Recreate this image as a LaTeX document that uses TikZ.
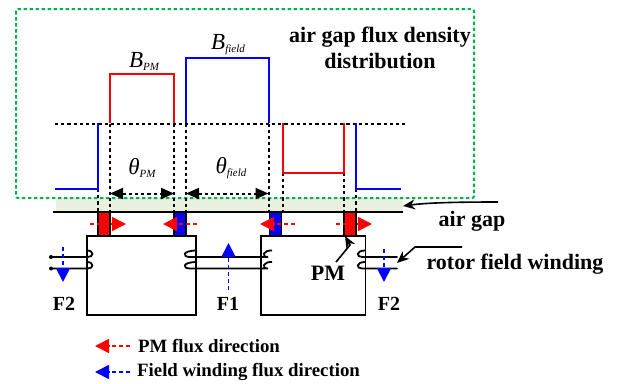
\documentclass[tikz,border=0pt]{standalone}
\usepackage{fontspec}
\setmainfont{Liberation Serif}
\usetikzlibrary{arrows.meta, positioning}
\definecolor{gapgreen}{HTML}{E9F0DF}
\definecolor{boxgreen}{HTML}{00B050}

\begin{document}
\begin{tikzpicture}[
  x=1pt, y=-1pt,
  label/.style={inner sep=0pt, align=center, font=\fontsize{22}{26}\selectfont\bfseries},
  flabel/.style={inner sep=0pt, font=\fontsize{20}{22}\selectfont\bfseries},
  legendtext/.style={inner sep=0pt, anchor=west, font=\fontsize{18.8}{20}\selectfont\bfseries},
  symbol/.style={inner sep=0pt, font=\fontsize{23}{24}\selectfont\itshape},
  wave/.style={draw, line width=2pt},
  guide/.style={draw, line width=2pt, dash pattern=on 3.2pt off 3pt},
  magnet/.style={rectangle, draw, line width=1.8pt, minimum width=12pt, minimum height=23pt, inner sep=0pt},
  rotor/.style={rectangle, draw, line width=1.8pt, minimum height=79.5pt, inner sep=0pt},
  span/.style={guide, {Triangle[length=13pt,width=11pt]}-{Triangle[length=13pt,width=11pt]}},
  flux/.style={line width=1.8pt, dash pattern=on 4pt off 3pt, -{Triangle[length=14pt,width=14pt]}},
  pointer/.style={draw, line width=1.6pt, -{Stealth[length=12pt,width=10pt]}},
  coil/.style={draw, line width=1.8pt},
]
  \useasboundingbox (0,0) rectangle (618,383);

  % air gap band and frame
  \fill[gapgreen] (56,198) rectangle (403,212);
  \draw[boxgreen, line width=2pt, dash pattern=on 3.5pt off 2.5pt, rounded corners=2pt] (16,9) rectangle (474,198);

  % reference level and guides
  \draw[guide] (55,123.5) -- (405,123.5);
  \foreach \xpos/\ytop in {98/189, 110/123.5, 174/123.5, 186/123.5, 268.5/123.5, 283/172.5, 344/172.5, 356/189}
    \draw[guide] (\xpos,\ytop) -- (\xpos,212);

  % flux density waveform
  \draw[wave, blue] (55,189) -- (98,189) -- (98,123);
  \draw[wave, red] (110,123) -- (110,74) -- (174,74) -- (174,123);
  \draw[wave, blue] (186,123) -- (186,58) -- (268.5,58) -- (268.5,123);
  \draw[wave, red] (283,123) -- (283,172.5) -- (344,172.5) -- (344,123);
  \draw[wave, blue] (356,123) -- (356,189) -- (401,189);

  \node[symbol] (bpm) at (144,61) {B\raisebox{-3pt}{\fontsize{11}{12}\selectfont PM}};
  \node[symbol] (bfield) at (228,45) {B\raisebox{-3pt}{\fontsize{11}{12}\selectfont field}};
  \node[symbol] (thetapm) at (142,168) {θ\raisebox{-3pt}{\fontsize{11}{12}\selectfont PM}};
  \node[symbol] (thetafield) at (231,168) {θ\raisebox{-3pt}{\fontsize{11}{12}\selectfont field}};

  \coordinate (pmleft) at (110,193.5);
  \coordinate (pmright) at (174,193.5);
  \coordinate (fieldleft) at (186,193.5);
  \coordinate (fieldright) at (268.5,193.5);
  \draw[span] (pmleft) -- (pmright);
  \draw[span] (fieldleft) -- (fieldright);

  % rotor
  \coordinate (gapleft) at (53,212);
  \coordinate (gapright) at (403,212);
  \draw[line width=1.8pt] (gapleft) -- (gapright);
  \node[rotor, minimum width=109pt] (rotorA) at (141.5,275.5) {};
  \node[rotor, minimum width=104.5pt] (rotorB) at (313.2,275.5) {};
  \node[magnet, fill=red] (magA) at (104,224) {};
  \node[magnet, fill=blue] (magB) at (180,224) {};
  \node[magnet, fill=blue] (magC) at (275.5,224) {};
  \node[magnet, fill=red] (magD) at (350,224) {};

  % field winding
  \foreach \ypos in {257,268.5} {
    \draw[coil, line cap=round] (51,\ypos) -- (88,\ypos) .. controls (94,\ypos) and (94,\ypos-6.5) .. (87,\ypos-6.5);
    \draw[coil] (272,\ypos-6.5) .. controls (263,\ypos-7) and (261,\ypos) .. (268,\ypos) -- (190,\ypos) .. controls (182,\ypos) and (182,\ypos-6.5) .. (197,\ypos-6.5);
    \draw[coil, line cap=round] (397,\ypos) -- (362,\ypos) .. controls (356,\ypos) and (356,\ypos-6.5) .. (365,\ypos-6.5);
    \fill (51,\ypos) circle (2pt);
  }

  % flux directions
  \draw[flux, red] (90,224) -- (126,224);
  \draw[flux, red] (197,224) -- (163,224);
  \draw[flux, red] (295,224) -- (260,224);
  \draw[flux, red] (336,224) -- (372,224);
  \draw[flux, blue] (63,247) -- (63,282);
  \draw[flux, blue] (228.5,290) -- (228.5,243);
  \draw[flux, blue] (384,249) -- (384,282);

  % labels
  \node[label] (title) at (380,48) {air gap flux density\\distribution};
  \node[label] (gaplabel) at (472,221) {air gap};
  \node[label] (windinglabel) at (515,264) {rotor field winding};
  \node[label] (pmlabel) at (328,273) {PM};
  \node[flabel] (ftwoA) at (64,304) {F2};
  \node[flabel] (fone) at (228,304) {F1};
  \node[flabel] (ftwoB) at (389,304) {F2};

  % pointers
  \coordinate (gaptail) at (498,202);
  \coordinate (gaphead) at (403,206);
  \draw[pointer] (gaptail) .. controls (450,202) and (425,203) .. (gaphead);
  \coordinate (pmtail) at (336,262);
  \coordinate (pmhead) at (345,236);
  \draw[pointer] (pmtail) -- (350,245) -- (pmhead);
  \coordinate (windtail) at (462,247);
  \coordinate (windhead) at (397,263);
  \draw[pointer] (windtail) -- (415,247) -- (windhead);

  % legend
  \node[legendtext] (legendpm) at (138,346) {PM flux direction};
  \node[legendtext] (legendfield) at (137,372) {Field winding flux direction};
  \coordinate (legendpmtail) at (130,346);
  \coordinate (legendpmhead) at (95,346);
  \coordinate (legendfieldtail) at (130,372);
  \coordinate (legendfieldhead) at (95,372);
  \draw[flux, red] (legendpmtail) -- (legendpmhead);
  \draw[flux, blue] (legendfieldtail) -- (legendfieldhead);
\end{tikzpicture}
\end{document}
